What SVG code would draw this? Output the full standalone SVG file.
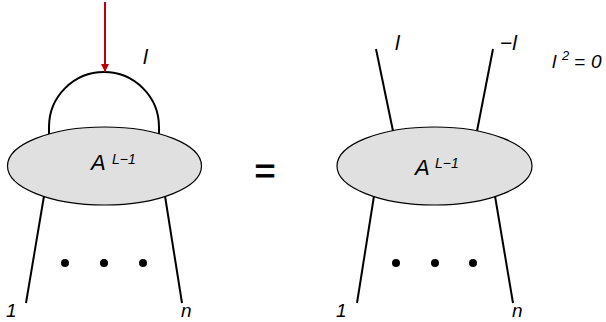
<svg xmlns="http://www.w3.org/2000/svg" width="606" height="322" viewBox="0 0 606 322">
<defs>
<style>
.blob{fill:#e0e0e0;stroke:#000;stroke-width:1.2}
.ln{fill:none;stroke:#000;stroke-width:2}
.t{font-family:"Liberation Sans",Arial,sans-serif;font-style:italic;fill:#000}
</style>
<marker id="ah" viewBox="0 0 10 10" refX="10" refY="5" markerWidth="11" markerHeight="8" markerUnits="userSpaceOnUse" orient="auto"><path d="M0,0 L10,5 L0,10 z" fill="#c00000"/></marker>
</defs>
<rect width="606" height="322" fill="#fff"/>
<g id="connectors">
<path class="ln" d="M49,136 L49,127 A55,55 0 0 1 159,127 L159,136"/>
<line x1="105" y1="2" x2="105" y2="72" stroke="#c00000" stroke-width="2" marker-end="url(#ah)"/>
<line class="ln" x1="44" y1="196" x2="26" y2="303"/>
<line class="ln" x1="165" y1="196" x2="182" y2="303"/>
<line class="ln" x1="376" y1="49" x2="393" y2="131"/>
<line class="ln" x1="493" y1="49" x2="477" y2="131"/>
<line class="ln" x1="374" y1="196" x2="357" y2="303"/>
<line class="ln" x1="495" y1="196" x2="513" y2="303"/>
</g>
<g id="left-blob">
<ellipse class="blob" cx="104.5" cy="166" rx="97" ry="39"/>
<text class="t" x="91" y="170" font-size="22">A</text>
<text class="t" x="112" y="164" font-size="14">L−1</text>
</g>
<g id="right-blob">
<ellipse class="blob" cx="434.5" cy="166" rx="97.5" ry="39"/>
<text class="t" x="415" y="175" font-size="22">A</text>
<text class="t" x="435" y="168" font-size="14">L−1</text>
</g>
<g id="dots-left">
<circle cx="65" cy="263" r="4"/>
<circle cx="104" cy="263" r="4"/>
<circle cx="143" cy="263" r="4"/>
</g>
<g id="dots-right">
<circle cx="396" cy="263" r="4"/>
<circle cx="435" cy="263" r="4"/>
<circle cx="473" cy="263" r="4"/>
</g>
<g id="labels">
<text class="t" x="143" y="64" font-size="21">l</text>
<text class="t" x="395" y="50" font-size="21">l</text>
<text class="t" x="500" y="50" font-size="21">−l</text>
<text class="t" x="552" y="68" font-size="19">l</text>
<text class="t" x="562" y="60" font-size="13">2</text>
<text class="t" x="574" y="68" font-size="19">=</text>
<text class="t" x="591" y="68" font-size="19">0</text>
<text class="t" x="254" y="183" font-size="36" stroke="#000" stroke-width="0.8">=</text>
<text class="t" x="6" y="317" font-size="19">1</text>
<text class="t" x="181" y="317" font-size="19">n</text>
<text class="t" x="336" y="317" font-size="19">1</text>
<text class="t" x="512" y="317" font-size="19">n</text>
</g>
</svg>
